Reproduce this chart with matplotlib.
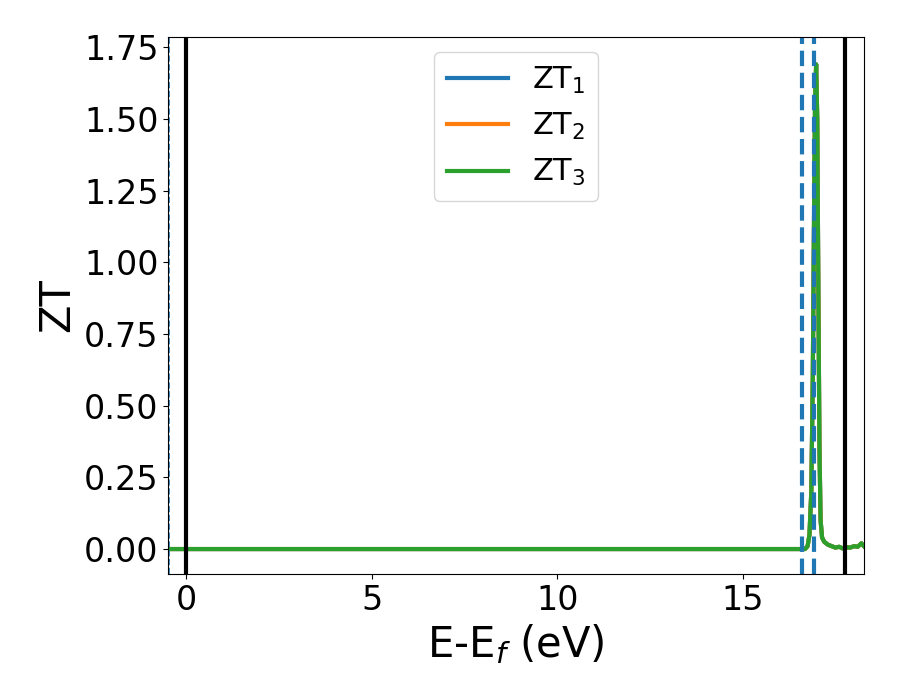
import matplotlib
matplotlib.use("Agg")
import matplotlib.pyplot as plt

# energy grid (eV) and ZT values
energy = [-0.48, 16.58, 16.68, 16.75, 16.8, 16.85, 16.89, 16.92, 16.95, 16.98, 17.01,
          17.04, 17.07, 17.1, 17.14, 17.2, 17.3, 17.4, 17.5, 17.6, 17.7, 17.8,
          17.9, 18.0, 18.1, 18.2, 18.27]
zt1 = [0.0, 0.0, 0.0, 0.01, 0.05, 0.2, 0.6, 1.1, 1.55, 1.69, 1.5,
       0.9, 0.35, 0.1, 0.04, 0.025, 0.015, 0.01, 0.005, 0.008, 0.002, 0.006,
       0.005, 0.01, 0.008, 0.02, 0.01]
zt2 = list(zt1)
zt3 = list(zt1)

series = [("ZT$_1$", zt1, "#1f77b4"), ("ZT$_2$", zt2, "#ff7f0e"), ("ZT$_3$", zt3, "#2ca02c")]

# reference lines
solid_lines = [0.0, 17.76]
dashed_lines = [16.6, 16.92]
xmin, xmax = -0.48, 18.27

fig = plt.figure(figsize=(9, 7), dpi=100)
ax = fig.add_axes([0.187, 0.18, 0.773, 0.767])

for lab, zt, col in series:
    ax.plot(energy, zt, color=col, linewidth=3, label=lab)

for x in solid_lines:
    ax.axvline(x, color="black", linewidth=3)
for x in dashed_lines:
    ax.axvline(x, color="#1f77b4", linewidth=3, linestyle="--")
ax.axvline(xmin + 0.02, color="#1f77b4", linewidth=1.2, linestyle="--")

ax.set_xlim(xmin, xmax)
ax.set_ylim(-0.087, 1.785)
ax.set_yticks([0, 0.25, 0.5, 0.75, 1.0, 1.25, 1.5, 1.75])
ax.set_xticks([0, 5, 10, 15])
ax.tick_params(labelsize=24)
ax.set_xlabel("E-E$_f$ (eV)", fontsize=30)
ax.set_ylabel("ZT", fontsize=30)
ax.legend(loc="upper center", fontsize=22)

fig.savefig("out.png")
